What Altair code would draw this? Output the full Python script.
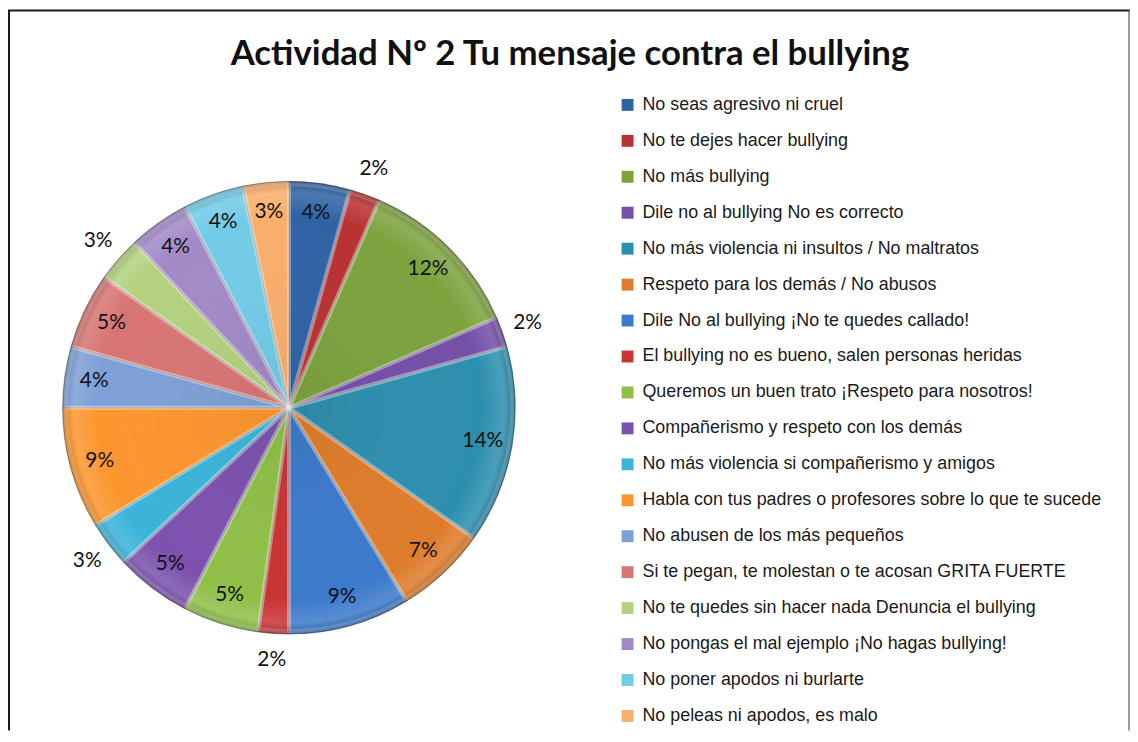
import math
import altair as alt
import pandas as pd

title_text = "Actividad Nº 2 Tu mensaje contra el bullying"

categories = [
    "No seas agresivo ni cruel",
    "No te dejes hacer bullying",
    "No más bullying",
    "Dile no al bullying No es correcto",
    "No más violencia ni insultos / No maltratos",
    "Respeto para los demás / No abusos",
    "Dile No al bullying ¡No te quedes callado!",
    "El bullying no es bueno, salen personas heridas",
    "Queremos un buen trato ¡Respeto para nosotros!",
    "Compañerismo y respeto con los demás",
    "No más violencia si compañerismo y amigos",
    "Habla con tus padres o profesores sobre lo que te sucede",
    "No abusen de los más pequeños",
    "Si te pegan, te molestan o te acosan GRITA FUERTE",
    "No te quedes sin hacer nada Denuncia el bullying",
    "No pongas el mal ejemplo ¡No hagas bullying!",
    "No poner apodos ni burlarte",
    "No peleas ni apodos, es malo",
]

counts = [4, 2, 11, 2, 13, 6, 8, 2, 5, 5, 3, 8, 4, 5, 3, 4, 4, 3]

colors = [
    "#3063A5", "#B83232", "#7DA23E", "#7450A8", "#2D8FAE", "#DE7C2B",
    "#3C7ACB", "#C93434", "#8FBF48", "#7B52AE", "#3AB4D9", "#FC962F",
    "#7DA0D6", "#D77574", "#B3D17F", "#A28AC6", "#72CBE6", "#F9AE6C",
]

label_side = ["in", "out", "in", "out", "in", "in", "in", "out", "in",
              "in", "out", "in", "in", "in", "out", "in", "in", "in"]

W, H = 1130, 725
CX, CY, R = 283, 400, 228

df = pd.DataFrame({
    "mensaje": categories,
    "n": counts,
    "orden": list(range(len(categories))),
    "lado": label_side,
})
one = pd.DataFrame({"t": [title_text]})

base = alt.Chart(df).transform_window(
    cum="sum(n)", sort=[alt.SortField("orden", order="ascending")]
).transform_joinaggregate(
    total="sum(n)"
).transform_calculate(
    start="datum.cum - datum.n",
    end="datum.cum",
    mid="datum.cum - datum.n / 2",
    pct="round(datum.n / datum.total * 100) + '%'",
    r="datum.lado == 'out' ? 255 : 198",
)

theta_scale = alt.Scale(domain=[0, sum(counts)], zero=True, nice=False)

pie = base.mark_arc(outerRadius=R, stroke="#3a3a3a", strokeWidth=0.8, strokeOpacity=0.5).encode(
    x=alt.value(CX),
    y=alt.value(CY),
    theta=alt.Theta("start:Q", scale=theta_scale),
    theta2="end:Q",
    color=alt.Color(
        "mensaje:N",
        scale=alt.Scale(domain=categories, range=colors),
        legend=alt.Legend(
            orient="none",
            legendX=615,
            legendY=86,
            title=None,
            symbolType="square",
            symbolSize=144,
            symbolStrokeWidth=0,
            symbolOpacity=1,
            labelFont="Liberation Sans",
            labelFontSize=18,
            labelColor="#1a1a1a",
            labelOffset=6,
            labelLimit=700,
            rowPadding=18.2,
            padding=0,
        ),
    ),
)

bevel = base.mark_arc(
    outerRadius=R - 3, filled=False, stroke="white", strokeOpacity=0.22, strokeWidth=4
).encode(
    x=alt.value(CX),
    y=alt.value(CY),
    theta=alt.Theta("start:Q", scale=theta_scale),
    theta2="end:Q",
)

overlay = alt.Chart(one).mark_arc(
    outerRadius=R,
    theta=0,
    theta2=2 * math.pi,
    fill=alt.RadialGradient(
        gradient="radial",
        stops=[
            alt.GradientStop(offset=0, color="rgba(0,0,0,0.06)"),
            alt.GradientStop(offset=0.85, color="rgba(255,255,255,0)"),
            alt.GradientStop(offset=0.95, color="rgba(255,255,255,0.14)"),
            alt.GradientStop(offset=1, color="rgba(0,0,0,0.18)"),
        ],
    ),
).encode(x=alt.value(CX), y=alt.value(CY))

labels = base.mark_text(font="Lato", fontSize=21, color="#111111").encode(
    x=alt.value(CX),
    y=alt.value(CY),
    theta=alt.Theta("mid:Q", scale=theta_scale),
    radius=alt.Radius("r:Q", scale=None),
    text="pct:N",
)

title = alt.Chart(one).mark_text(
    font="Lato", fontSize=35, fontWeight="bold", color="#111111"
).encode(x=alt.value(566), y=alt.value(44), text="t:N")

left = alt.Chart(one).mark_rule(color="#1a1a1a", strokeWidth=2).encode(
    x=alt.value(1), y=alt.value(0), y2=alt.value(H))
top = alt.Chart(one).mark_rule(color="#1a1a1a", strokeWidth=2).encode(
    x=alt.value(0), x2=alt.value(W), y=alt.value(0))
right = alt.Chart(one).mark_rule(color="#777777", strokeWidth=1.5).encode(
    x=alt.value(W - 1), y=alt.value(0), y2=alt.value(H))

chart = alt.layer(left, top, right, pie, bevel, overlay, labels, title).properties(
    width=W, height=H, padding=0, autosize="none"
).configure_view(stroke="transparent")

chart.save("out.html", embed_options={"renderer": "svg", "actions": False})
